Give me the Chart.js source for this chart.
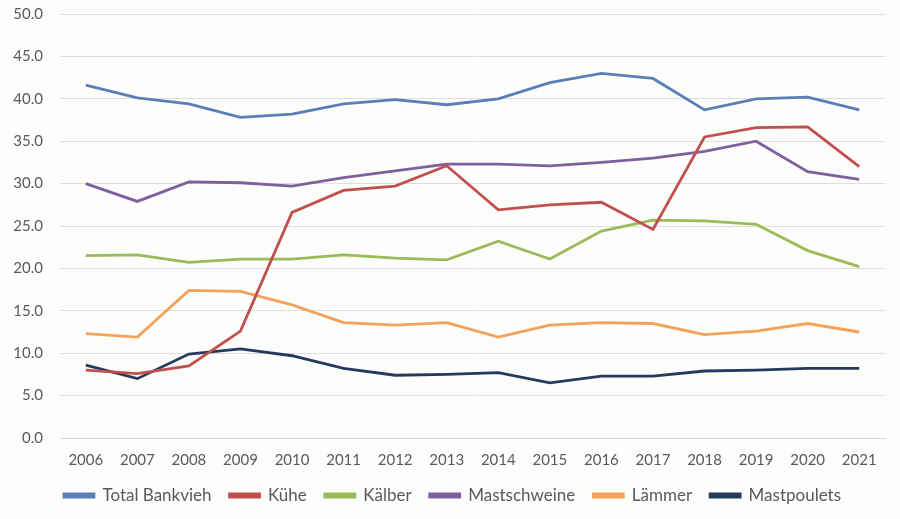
<!DOCTYPE html>
<html>
<head>
<meta charset="utf-8">
<script src="https://cdn.jsdelivr.net/npm/chart.js@4/dist/chart.umd.min.js"></script>
<style>
  html, body { margin: 0; padding: 0; background: #fdfdfb; }
  #wrap { width: 900px; height: 519px; position: relative; }
</style>
</head>
<body>
<div id="wrap"><canvas id="c" width="900" height="519"></canvas></div>
<script>
const years = ['2006','2007','2008','2009','2010','2011','2012','2013','2014','2015','2016','2017','2018','2019','2020','2021'];
const totalBankvieh = [41.6, 40.1, 39.4, 37.8, 38.2, 39.4, 39.9, 39.3, 40.0, 41.9, 43.0, 42.4, 38.7, 40.0, 40.2, 38.7];
const kuehe        = [8.0, 7.6, 8.5, 12.6, 26.6, 29.2, 29.7, 32.1, 26.9, 27.5, 27.8, 24.6, 35.5, 36.6, 36.7, 32.0];
const kaelber      = [21.5, 21.6, 20.7, 21.1, 21.1, 21.6, 21.2, 21.0, 23.2, 21.1, 24.4, 25.7, 25.6, 25.2, 22.1, 20.2];
const mastschweine = [30.0, 27.9, 30.2, 30.1, 29.7, 30.7, 31.5, 32.3, 32.3, 32.1, 32.5, 33.0, 33.8, 35.0, 31.4, 30.5];
const laemmer      = [12.3, 11.9, 17.4, 17.3, 15.7, 13.6, 13.3, 13.6, 11.9, 13.3, 13.6, 13.5, 12.2, 12.6, 13.5, 12.5];
const mastpoulets  = [8.6, 7.0, 9.9, 10.5, 9.7, 8.2, 7.4, 7.5, 7.7, 6.5, 7.3, 7.3, 7.9, 8.0, 8.2, 8.2];
const yTicks = [0, 5, 10, 15, 20, 25, 30, 35, 40, 45, 50];

const seriesDefs = [
  ['Total Bankvieh', totalBankvieh, '#5a7fb8'],
  ['Kühe', kuehe, '#c0504d'],
  ['Kälber', kaelber, '#9bbb59'],
  ['Mastschweine', mastschweine, '#7f5fa0'],
  ['Lämmer', laemmer, '#f4a259'],
  ['Mastpoulets', mastpoulets, '#253a5c']
];

const FONT = "Lato, 'Liberation Sans', sans-serif";
const TXT = '#595959';

const legendShift = {
  id: 'legendShift',
  afterLayout(chart) {
    const l = chart.legend;
    if (l) { l.left += 10; l.right += 10; }
  }
};

new Chart(document.getElementById('c'), {
  type: 'line',
  data: {
    labels: years,
    datasets: seriesDefs.map(([label, data, color]) => ({
      label, data,
      borderColor: color,
      backgroundColor: color,
      borderWidth: 2.8,
      pointRadius: 0,
      pointHoverRadius: 0,
      tension: 0,
      fill: false
    }))
  },
  plugins: [legendShift],
  options: {
    responsive: false,
    animation: false,
    devicePixelRatio: 1,
    layout: { padding: { left: 0, right: 15, top: 14, bottom: 5 } },
    plugins: {
      tooltip: { enabled: false },
      legend: {
        position: 'bottom',
        labels: {
          boxWidth: 30,
          boxHeight: 3,
          padding: 18,
          color: TXT,
          font: { family: FONT, size: 17 }
        }
      }
    },
    scales: {
      x: {
        offset: true,
        afterFit: (s) => { s.height = 31; },
        grid: { display: false, drawTicks: false },
        border: { display: true, color: '#d9d9d9', width: 1 },
        ticks: { color: TXT, font: { family: FONT, size: 15 }, padding: 13, maxRotation: 0 }
      },
      y: {
        min: 0, max: 50,
        afterBuildTicks: (s) => { s.ticks = yTicks.map(v => ({ value: v })); },
        afterFit: (s) => { s.width = 60; s.paddingTop = 0; s.paddingBottom = 0; },
        grid: { color: '#dedede', lineWidth: 1, drawTicks: false },
        border: { display: false },
        ticks: {
          color: TXT, font: { family: FONT, size: 15 }, padding: 17,
          callback: (v) => Number(v).toFixed(1)
        }
      }
    }
  }
});
</script>
</body>
</html>
